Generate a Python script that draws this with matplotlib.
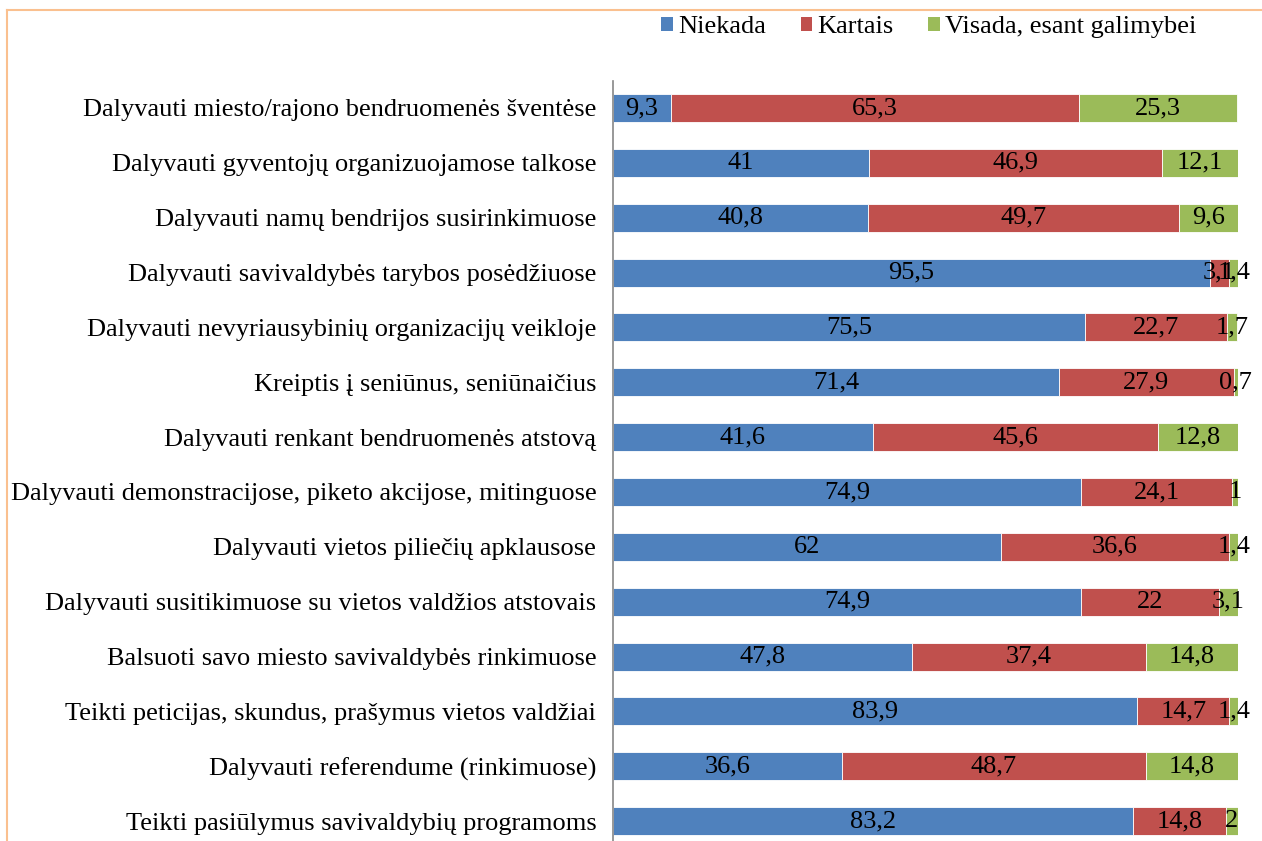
import matplotlib
matplotlib.use("Agg")
import matplotlib.pyplot as plt
from matplotlib.lines import Line2D
from matplotlib.patches import Patch
import numpy as np

categories = [
    "Dalyvauti miesto/rajono bendruomenės šventėse",
    "Dalyvauti gyventojų organizuojamose talkose",
    "Dalyvauti namų bendrijos susirinkimuose",
    "Dalyvauti savivaldybės tarybos posėdžiuose",
    "Dalyvauti nevyriausybinių organizacijų veikloje",
    "Kreiptis į seniūnus, seniūnaičius",
    "Dalyvauti renkant bendruomenės atstovą",
    "Dalyvauti demonstracijose, piketo akcijose, mitinguose",
    "Dalyvauti vietos piliečių apklausose",
    "Dalyvauti susitikimuose su vietos valdžios atstovais",
    "Balsuoti savo miesto savivaldybės rinkimuose",
    "Teikti peticijas, skundus, prašymus vietos valdžiai",
    "Dalyvauti referendume (rinkimuose)",
    "Teikti pasiūlymus savivaldybių programoms",
]
niekada = [9.3, 41, 40.8, 95.5, 75.5, 71.4, 41.6, 74.9, 62, 74.9, 47.8, 83.9, 36.6, 83.2]
kartais = [65.3, 46.9, 49.7, 3.1, 22.7, 27.9, 45.6, 24.1, 36.6, 22, 37.4, 14.7, 48.7, 14.8]
visada = [25.3, 12.1, 9.6, 1.4, 1.7, 0.7, 12.8, 1, 1.4, 3.1, 14.8, 1.4, 14.8, 2]
series_names = ["Niekada", "Kartais", "Visada, esant galimybei"]
colors = ["#4F81BD", "#C0504D", "#9BBB59"]

plt.rcParams["font.family"] = ["Liberation Serif", "DejaVu Serif"]

fig = plt.figure(figsize=(12.62, 8.41), dpi=100)
ax = fig.add_axes([613 / 1262, -0.009, 625 / 1262, 0.9132])

y = np.arange(len(categories))
left = np.zeros(len(categories))
for vals, name, col in zip([niekada, kartais, visada], series_names, colors):
    vals = np.array(vals, dtype=float)
    bars = ax.barh(y, vals, left=left, height=0.51, color=col,
                   edgecolor="white", linewidth=0.6, label=name)
    ax.bar_label(bars, labels=[f"{v:g}".replace(".", ",") for v in vals],
                 label_type="center", fontsize=19, color="black")
    left += vals

ax.set_xlim(0, 100)
ax.set_ylim(len(categories) - 0.5, -0.5)
ax.set_yticks(y, categories, fontsize=19)
ax.tick_params(axis="y", length=0, pad=12)
ax.set_xticks([])
for s in ["top", "right", "bottom"]:
    ax.spines[s].set_visible(False)
ax.spines["left"].set_color("#868686")
ax.spines["left"].set_linewidth(1.2)

handles = [Patch(facecolor=c) for c in colors]
fig.legend(handles, series_names, loc="center", bbox_to_anchor=(929 / 1262, 1 - 27 / 841),
           ncol=3, frameon=False, fontsize=19, handlelength=0.45, handleheight=0.45,
           handletextpad=0.2, columnspacing=1.3)

# orange frame of the original chart area
frame_col = "#FAC08F"
fig.add_artist(Line2D([7 / 1262, 1.0], [1 - 10 / 841] * 2, color=frame_col, lw=1.5))
fig.add_artist(Line2D([7 / 1262] * 2, [0, 1 - 10 / 841], color=frame_col, lw=1.5))

fig.savefig("out.png", dpi=100)
